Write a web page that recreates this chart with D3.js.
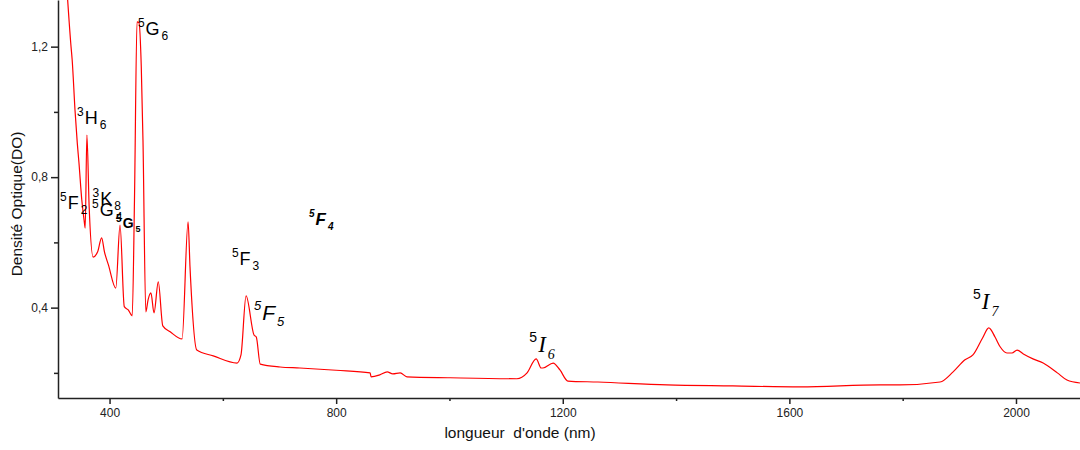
<!DOCTYPE html>
<html>
<head>
<meta charset="utf-8">
<script src="https://cdn.jsdelivr.net/npm/d3@7"></script>
<style>
  body { margin: 0; background: #fff; }
</style>
</head>
<body>
<svg id="chart" width="1080" height="450" font-family="Liberation Sans, Arial, sans-serif"></svg>
<script>
// spectrum
let wavelength = [325, 332, 334, 339, 343, 346, 351, 355, 357, 360, 364, 371, 379, 386, 391, 398, 411, 418.5, 426, 433, 440, 444, 448.5, 452, 456, 459, 464, 468, 473, 478.5, 486, 494, 507, 528, 538.6, 542, 554, 583, 625, 632, 641, 655, 659, 666, 701, 736, 800, 860, 861.6, 877, 890, 900, 913, 925, 1001, 1119, 1137, 1153, 1162, 1165, 1183, 1195, 1209, 1262, 1384, 1500, 1619, 1760, 1795, 1866, 1889, 1910, 1924, 1941, 1952, 1963, 1972, 1984, 1993, 2002, 2013, 2030, 2048, 2073, 2090, 2113];
let density = [1.37, 1.20, 1.16, 1.006, 0.905, 0.844, 0.73, 0.669, 0.644, 0.929, 0.709, 0.555, 0.571, 0.614, 0.571, 0.531, 0.46, 0.653, 0.403, 0.393, 0.375, 0.73, 1.276, 1.273, 1.138, 0.914, 0.387, 0.424, 0.445, 0.384, 0.479, 0.344, 0.326, 0.304, 0.663, 0.525, 0.27, 0.252, 0.23, 0.255, 0.436, 0.316, 0.31, 0.227, 0.218, 0.215, 0.208, 0.2, 0.188, 0.194, 0.203, 0.197, 0.2, 0.188, 0.185, 0.182, 0.2, 0.243, 0.215, 0.215, 0.23, 0.209, 0.175, 0.172, 0.163, 0.16, 0.157, 0.163, 0.163, 0.172, 0.203, 0.24, 0.255, 0.307, 0.338, 0.31, 0.28, 0.261, 0.261, 0.27, 0.258, 0.243, 0.23, 0.2, 0.178, 0.169];

let xTicks = [400, 800, 1200, 1600, 2000];
let xMinor = [600, 1000, 1400, 1800];
let yTicks = [0.4, 0.8, 1.2];
let yMinor = [0.2, 0.6, 1.0];

// term symbols: superscript, letter, subscript, anchor (nm, DO)
let termSup = ["5", "3", "5", "3", "5", "5", "5", "5", "5", "5", "5"];
let termLetter = ["G", "H", "F", "K", "G", "G", "F", "F", "F", "I", "I"];
let termSub = ["6", "6", "2", "8", "4", "5", "4", "3", "5", "6", "7"];
let termNm = [450, 342.6, 312.6, 370, 369, 411.5, 752, 616, 655, 1141, 1924];
let termDO = [1.236, 0.963, 0.7025, 0.715, 0.681, 0.644, 0.653, 0.531, 0.363, 0.264, 0.396];
let termKind = ["plain", "plain", "plain", "plain", "plain", "small", "boldit", "plain", "italic", "serif", "serif"];

let svg = d3.select("#chart");
let margin = {left: 58, right: 0, top: 0, bottom: 52};
let width = 1080, height = 450;
let sans = "Liberation Sans, Arial, sans-serif";
let serif = "Liberation Serif, Times New Roman, serif";

let x = d3.scaleLinear().domain([309, 2113]).range([margin.left, width - margin.right]);
let y = d3.scaleLinear().domain([0.123, 1.343]).range([height - margin.bottom, margin.top]);

svg.append("defs").append("clipPath").attr("id", "plotClip")
   .append("rect")
   .attr("x", margin.left).attr("y", margin.top)
   .attr("width", width - margin.left - margin.right)
   .attr("height", height - margin.top - margin.bottom);

let spectrum = wavelength.map((w, i) => ({w: w, d: density[i]}));

let line = d3.line()
             .x(d => x(d.w))
             .y(d => y(d.d))
             .curve(d3.curveMonotoneX);

svg.append("path")
   .datum(spectrum)
   .attr("clip-path", "url(#plotClip)")
   .attr("fill", "none")
   .attr("stroke", "#ff0000")
   .attr("stroke-width", 1.2)
   .attr("d", line);

// axes
let fmt = d3.format(".1f");
svg.append("g")
   .attr("transform", "translate(0," + y.range()[0] + ")")
   .call(d3.axisBottom(x).tickValues(xTicks).tickSize(6).tickSizeOuter(0).tickPadding(4)
           .tickFormat(d3.format("d")));
let xMinorAxis = svg.append("g")
   .attr("transform", "translate(0," + y.range()[0] + ")")
   .call(d3.axisBottom(x).tickValues(xMinor).tickSize(3).tickFormat(""));
xMinorAxis.select(".domain").remove();

svg.append("g")
   .attr("transform", "translate(" + margin.left + ",0)")
   .call(d3.axisLeft(y).tickValues(yTicks).tickSize(7).tickSizeOuter(0).tickPadding(3)
           .tickFormat(d => fmt(d).replace(".", ",")));
let yMinorAxis = svg.append("g")
   .attr("transform", "translate(" + margin.left + ",0)")
   .call(d3.axisLeft(y).tickValues(yMinor).tickSize(4).tickFormat(""));
yMinorAxis.select(".domain").remove();

svg.selectAll(".domain, .tick line").attr("stroke", "#222").attr("stroke-width", 1.5);
svg.selectAll(".tick text")
   .attr("font-family", sans)
   .attr("font-size", 12)
   .attr("fill", "#222");

svg.append("text")
   .attr("x", 520).attr("y", 438)
   .attr("text-anchor", "middle")
   .attr("font-size", 15.5)
   .attr("fill", "#111")
   .style("white-space", "pre")
   .text("longueur  d'onde (nm)");

svg.append("text")
   .attr("transform", "translate(22,204) rotate(-90)")
   .attr("text-anchor", "middle")
   .attr("font-size", 15.5)
   .attr("fill", "#111")
   .text("Densité Optique(DO)");

// term labels
let kinds = {
  plain:  {size: 18, supSize: 12, subSize: 12, weight: "normal", style: "normal", family: sans},
  small:  {size: 14, supSize: 10, subSize: 9, weight: "bold", style: "normal", family: sans},
  boldit: {size: 17, supSize: 10, subSize: 10, weight: "bold", style: "italic", family: sans},
  italic: {size: 21, supSize: 13, subSize: 13, weight: "normal", style: "italic", family: sans},
  serif:  {size: 23, supSize: 14, subSize: 14, weight: "normal", style: "italic", family: serif}
};

termLetter.forEach((letter, i) => {
  let k = kinds[termKind[i]];
  let t = svg.append("text")
     .attr("x", x(termNm[i]))
     .attr("y", y(termDO[i]))
     .attr("fill", "#000")
     .attr("font-family", k.family);
  t.append("tspan")
   .attr("font-size", k.supSize)
   .attr("font-weight", k.weight)
   .attr("font-style", termKind[i] == "serif" ? "normal" : k.style)
   .attr("font-family", termKind[i] == "serif" ? sans : k.family)
   .attr("dy", -0.45 * k.size)
   .text(termSup[i]);
  t.append("tspan")
   .attr("font-size", k.size)
   .attr("font-weight", k.weight)
   .attr("font-style", k.style)
   .attr("dy", 0.45 * k.size)
   .attr("dx", 1)
   .text(letter);
  t.append("tspan")
   .attr("font-size", k.subSize)
   .attr("font-weight", k.weight)
   .attr("font-style", k.style)
   .attr("dx", 2)
   .attr("dy", 0.3 * k.size)
   .text(termSub[i]);
});
</script>
</body>
</html>
